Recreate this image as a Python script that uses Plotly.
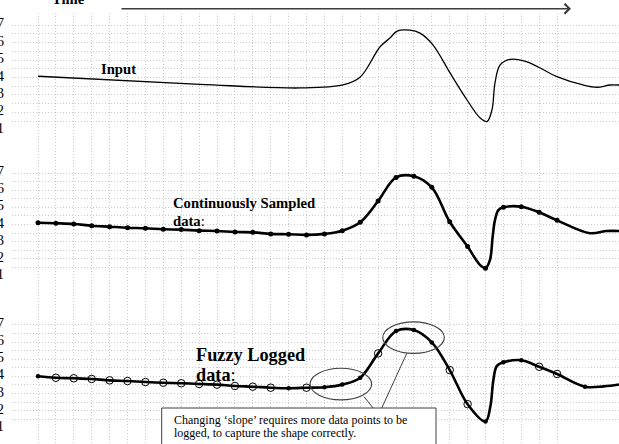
import plotly.graph_objects as go

# ---------------- data ----------------
y_tick_values = [1, 2, 3, 4, 5, 6, 7]
y_tick_labels = ["1", "2", "3", "4", "5", "6", "7"]

sample_t = list(range(30))  # sampling instants (one per vertical grid line)

# Panel 1: analogue input signal
input_t = [0, 9.05, 14.64, 17.04, 17.99, 19.11, 19.66, 20.06, 20.78, 21.34, 22.07,
           23.02, 23.97, 24.69, 25.08, 25.36, 25.53, 25.81, 26.37, 27.32, 28.99,
           30.45, 31.23, 31.96, 32.46]
input_v = [4.07, 3.61, 3.40, 3.57, 4.01, 5.76, 6.26, 6.66, 6.71, 6.54, 5.86,
           4.26, 2.71, 1.69, 1.47, 2.14, 3.69, 4.71, 5.04, 4.90, 4.05,
           3.57, 3.44, 3.57, 3.57]

# Panel 2: continuously sampled data (one value per sample instant)
cont_v = [4.10, 4.07, 4.03, 3.93, 3.87, 3.81, 3.78, 3.72, 3.70, 3.64,
          3.62, 3.56, 3.54, 3.45, 3.43, 3.39, 3.45, 3.64, 4.13, 5.37,
          6.75, 6.82, 6.17, 4.16, 2.71, 1.45, 5.00, 5.04, 4.71, 4.24]
# extra points on the drawn curve between / after samples
cont_curve_t = [24.69, 25.25, 25.40, 25.53, 25.72, 30.84, 31.77, 32.46]
cont_curve_v = [1.64, 1.93, 3.29, 4.26, 4.84, 3.49, 3.62, 3.62]

# Panel 3: fuzzy logged data
fuzzy_v = [4.01, 3.92, 3.89, 3.85, 3.77, 3.73, 3.67, 3.63, 3.60, 3.56,
           3.52, 3.44, 3.40, 3.34, 3.31, 3.34, 3.37, 3.52, 3.92, 5.34,
           6.64, 6.70, 5.98, 4.37, 2.38, 1.37, 4.82, 4.94, 4.56, 4.14]
fuzzy_logged = [1, 0, 0, 0, 0, 0, 0, 0, 0, 0,
                0, 0, 0, 0, 1, 0, 1, 1, 1, 0,
                1, 1, 1, 0, 0, 1, 1, 1, 0, 0]
fuzzy_extra_logged_t = [30.56]
fuzzy_extra_logged_v = [3.40]
fuzzy_curve_t = [25.27, 25.44, 25.63, 30.56, 31.6, 32.46]
fuzzy_curve_v = [2.24, 3.79, 4.60, 3.40, 3.42, 3.53]

# ---------------- figure ----------------
W, H = 619, 444
ML = 12
X_RANGE = [-1.453, 32.458]
SERIF = "Liberation Serif, Times New Roman, serif"
GRID_COLOR = "#cdcdcd"
GRID_DASH = "1px,2px"


def px_x(px):
    return (px - ML) / (W - ML)


def px_y(py):
    return (H - py) / H


def merge(t1, v1, t2, v2):
    pts = sorted(zip(list(t1) + list(t2), list(v1) + list(v2)))
    return [p[0] for p in pts], [p[1] for p in pts]


fig = go.Figure()

# background subplot: vertical grid lines spanning the whole page
fig.add_trace(go.Scatter(x=[None], y=[None], xaxis="x", yaxis="y",
                         showlegend=False, hoverinfo="skip"))

# panel 1 – input
fig.add_trace(go.Scatter(x=input_t, y=input_v, xaxis="x2", yaxis="y2", mode="lines",
                         line=dict(color="black", width=1.3, shape="spline"),
                         showlegend=False, hoverinfo="skip"))

# panel 2 – continuously sampled
c_t, c_v = merge(sample_t, cont_v, cont_curve_t, cont_curve_v)
fig.add_trace(go.Scatter(x=c_t, y=c_v, xaxis="x3", yaxis="y3", mode="lines",
                         line=dict(color="black", width=2.6, shape="spline"),
                         showlegend=False, hoverinfo="skip"))
fig.add_trace(go.Scatter(x=sample_t, y=cont_v, xaxis="x3", yaxis="y3", mode="markers",
                         marker=dict(color="black", size=5),
                         showlegend=False, hoverinfo="skip"))

# panel 3 – fuzzy logged
f_t, f_v = merge(sample_t, fuzzy_v, fuzzy_curve_t, fuzzy_curve_v)
fig.add_trace(go.Scatter(x=f_t, y=f_v, xaxis="x4", yaxis="y4", mode="lines",
                         line=dict(color="black", width=2.6, shape="spline"),
                         showlegend=False, hoverinfo="skip"))
open_t = [t for t, l in zip(sample_t, fuzzy_logged) if not l]
open_v = [v for v, l in zip(fuzzy_v, fuzzy_logged) if not l]
solid_t = [t for t, l in zip(sample_t, fuzzy_logged) if l] + fuzzy_extra_logged_t
solid_v = [v for v, l in zip(fuzzy_v, fuzzy_logged) if l] + fuzzy_extra_logged_v
fig.add_trace(go.Scatter(x=open_t, y=open_v, xaxis="x4", yaxis="y4", mode="markers",
                         marker=dict(symbol="circle-open", color="black", size=7.5,
                                     line=dict(width=1, color="black")),
                         showlegend=False, hoverinfo="skip"))
fig.add_trace(go.Scatter(x=solid_t, y=solid_v, xaxis="x4", yaxis="y4", mode="markers",
                         marker=dict(color="black", size=4.5),
                         showlegend=False, hoverinfo="skip"))

half_vals = [1 + 0.5 * i for i in range(14)]
half_text = [y_tick_labels[y_tick_values.index(int(v))] if v == int(v) else "" for v in half_vals]


def panel_x(anchor):
    return dict(domain=[0, 1], range=X_RANGE, anchor=anchor, visible=False,
                showgrid=False, zeroline=False, fixedrange=True)


def panel_y(anchor, dom):
    return dict(domain=dom, range=[0.99, 7.51], anchor=anchor,
                tickmode="array", tickvals=half_vals, ticktext=half_text,
                showgrid=True, gridcolor=GRID_COLOR, griddash=GRID_DASH, gridwidth=1,
                zeroline=False, showline=False, ticks="", automargin=False,
                ticklabelstandoff=7, ticklabelshift=-2,
                tickfont=dict(family=SERIF, size=14.5, color="black"), fixedrange=True)


fig.update_layout(
    width=W, height=H, template="none",
    margin=dict(l=ML, r=0, t=0, b=0, pad=0),
    paper_bgcolor="white", plot_bgcolor="rgba(0,0,0,0)",
    showlegend=False,
    xaxis=dict(domain=[0, 1], range=X_RANGE, anchor="y", tickmode="array",
               tickvals=sample_t, showgrid=True, gridcolor=GRID_COLOR,
               griddash=GRID_DASH, gridwidth=1, showticklabels=False, ticks="",
               zeroline=False, showline=False, automargin=False, fixedrange=True),
    yaxis=dict(domain=[0, 1 - 13 / H], range=[0, 1], anchor="x", showgrid=False,
               showticklabels=False, ticks="", zeroline=False, showline=False,
               automargin=False, fixedrange=True),
    xaxis2=panel_x("y2"),
    yaxis2=panel_y("x2", [1 - 130 / H, 1 - 16.25 / H]),
    xaxis3=panel_x("y3"),
    yaxis3=panel_y("x3", [1 - 276 / H, 1 - 164.4 / H]),
    xaxis4=panel_x("y4"),
    yaxis4=panel_y("x4", [1 - 428 / H, 1 - 316.2 / H]),
)

line_col = "#404040"
shapes = [
    # explanation box (continues below the page)
    dict(type="rect", xref="paper", yref="paper", x0=px_x(161.7), x1=px_x(436),
         y0=-0.1, y1=px_y(408), fillcolor="white", line=dict(color=line_col, width=1),
         layer="above"),
    # ellipses around the changing-slope regions
    dict(type="circle", xref="x4", yref="y4", x0=15.2, x1=18.64, y0=2.628, y1=4.471,
         line=dict(color=line_col, width=1.1), layer="above"),
    dict(type="circle", xref="x4", yref="y4", x0=19.26, x1=22.7, y0=5.343, y1=7.18,
         line=dict(color=line_col, width=1.1), layer="above"),
    # connectors from box to ellipses
    dict(type="line", xref="x4", yref="y4", x0=18.21, y0=2.82, x1=18.73, y1=2.145,
         line=dict(color=line_col, width=1), layer="above"),
    dict(type="line", xref="x4", yref="y4", x0=20.6, y0=5.343, x1=19.2, y1=2.145,
         line=dict(color=line_col, width=1), layer="above"),
]
fig.update_layout(shapes=shapes)

bold15 = dict(family=SERIF, size=14.67, color="black")
annotations = [
    dict(text="<b>Time</b>", xref="paper", yref="paper", x=px_x(50), y=px_y(-1),
         xanchor="left", yanchor="middle", showarrow=False, font=bold15),
    dict(text="", xref="paper", yref="paper", x=px_x(571), y=px_y(8.7),
         ax=-451, ay=0, showarrow=True, arrowhead=4, arrowsize=1.2, arrowwidth=1.6,
         arrowcolor="#3c3c3c"),
    dict(text="<b>Input</b>", xref="paper", yref="paper", x=px_x(99), y=px_y(69),
         xanchor="left", yanchor="middle", showarrow=False, font=bold15),
    dict(text="<b>Continuously Sampled</b>", xref="paper", yref="paper", x=px_x(171),
         y=px_y(203), xanchor="left", yanchor="middle", showarrow=False, font=bold15),
    dict(text="<b>data</b>:", xref="paper", yref="paper", x=px_x(171),
         y=px_y(221), xanchor="left", yanchor="middle", showarrow=False, font=bold15),
    dict(text="<b>Fuzzy Logged</b>", xref="paper", yref="paper", x=px_x(194),
         y=px_y(355), xanchor="left", yanchor="middle", showarrow=False,
         font=dict(family=SERIF, size=18.3, color="black")),
    dict(text="<b>data</b>:", xref="paper", yref="paper", x=px_x(194),
         y=px_y(375), xanchor="left", yanchor="middle", showarrow=False,
         font=dict(family=SERIF, size=18.3, color="black")),
    dict(text="Changing \u2018slope\u2019 requires more data points to be", xref="paper",
         yref="paper", x=px_x(171.5), y=px_y(419.5), xanchor="left", yanchor="middle",
         showarrow=False, font=dict(family=SERIF, size=12, color="black")),
    dict(text="logged, to capture the shape correctly.", xref="paper",
         yref="paper", x=px_x(171.5), y=px_y(432.5), xanchor="left", yanchor="middle",
         showarrow=False, font=dict(family=SERIF, size=12, color="black")),
]
fig.update_layout(annotations=annotations)

fig.write_html("out.html")
